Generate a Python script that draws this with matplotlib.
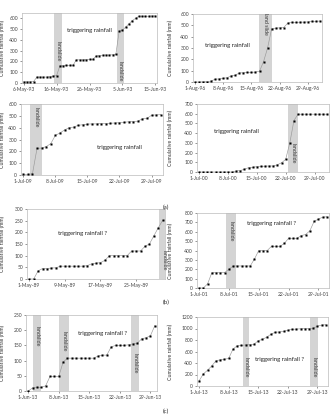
import matplotlib
matplotlib.use('Agg')
import matplotlib.pyplot as plt
import pandas as pd

plt.rcParams['font.family'] = ['Lato', 'DejaVu Sans']

# daily cumulative rainfall (mm)
a1_start = '1993-05-06'
a1_vals = [10, 10, 10, 12, 55, 55, 55, 55, 58, 65, 68, 160, 160, 163, 165, 165,
           215, 215, 215, 218, 220, 220, 250, 255, 258, 260, 260, 262, 265, 480,
           490, 520, 550, 580, 600, 620, 620, 620, 620, 622, 622]
a1_bands = [('1993-05-15 08:00', '1993-05-17 12:00'), ('1993-06-03 06:00', '1993-06-05 12:00')]
a1_ticks = ['1993-05-06', '1993-05-16', '1993-05-26', '1993-06-05', '1993-06-15']

a2_start = '1996-08-01'
a2_vals = [0, 0, 2, 3, 8, 25, 27, 32, 38, 55, 60, 80, 82, 85, 85, 88, 95, 180, 300,
           470, 475, 478, 480, 520, 525, 525, 528, 528, 530, 535, 535, 538]
a2_bands = [('1996-08-16 18:00', '1996-08-20 00:00')]
a2_ticks = ['1996-08-01', '1996-08-08', '1996-08-15', '1996-08-22', '1996-08-29']

a3_start = '2009-07-01'
a3_vals = [5, 5, 10, 225, 228, 240, 265, 335, 355, 380, 400, 405, 420, 425, 430, 432,
           432, 435, 435, 437, 440, 442, 445, 450, 452, 455, 475, 478, 505, 508, 510]
a3_bands = [('2009-07-02 10:00', '2009-07-05 00:00')]
a3_ticks = ['2009-07-01', '2009-07-08', '2009-07-15', '2009-07-22', '2009-07-29']

a4_start = '2000-07-01'
a4_vals = [0, 0, 0, 0, 0, 0, 0, 0, 0, 10, 15, 28, 45, 48, 55, 58, 60, 62, 62, 75,
           95, 130, 300, 530, 595, 595, 595, 595, 595, 595, 595, 595]
a4_bands = [('2000-07-22 12:00', '2000-07-25 00:00')]
a4_ticks = ['2000-07-01', '2000-07-08', '2000-07-15', '2000-07-22', '2000-07-29']

b1_start = '1989-05-01'
b1_vals = [0, 0, 35, 45, 45, 47, 48, 55, 55, 55, 55, 55, 55, 57, 65, 68, 70, 80,
           100, 100, 100, 100, 100, 120, 120, 120, 140, 150, 185, 220, 252]
b1_bands = [('1989-05-30 06:00', '1989-06-01 12:00')]
b1_ticks = ['1989-05-01', '1989-05-09', '1989-05-17', '1989-05-25']

b2_start = '2001-07-01'
b2_vals = [0, 0, 45, 165, 165, 165, 165, 200, 235, 235, 235, 235, 235, 310, 400, 400,
           400, 445, 445, 445, 475, 530, 530, 530, 560, 570, 610, 710, 735, 755, 760]
b2_bands = [('2001-07-07 06:00', '2001-07-09 18:00')]
b2_ticks = ['2001-07-01', '2001-07-08', '2001-07-15', '2001-07-22', '2001-07-29']

c1_start = '2013-06-01'
c1_vals = [0, 10, 12, 12, 17, 48, 48, 48, 95, 108, 108, 108, 108, 108, 108, 108,
           115, 118, 118, 145, 150, 150, 150, 152, 155, 157, 172, 175, 182, 215]
c1_bands = [('2013-06-02 00:00', '2013-06-04 00:00'), ('2013-06-08 02:00', '2013-06-10 08:00'),
            ('2013-06-24 12:00', '2013-06-26 10:00')]
c1_ticks = ['2013-06-01', '2013-06-08', '2013-06-15', '2013-06-22', '2013-06-29']

c2_start = '2013-07-01'
c2_vals = [90, 210, 275, 350, 440, 455, 465, 480, 640, 700, 705, 715, 720, 725, 790,
           810, 850, 900, 935, 940, 950, 970, 985, 990, 995, 1000, 1000, 1005, 1040,
           1060, 1065]
c2_bands = [('2013-07-11 08:00', '2013-07-12 22:00'), ('2013-07-27 06:00', '2013-07-29 03:00')]
c2_ticks = ['2013-07-01', '2013-07-08', '2013-07-15', '2013-07-22', '2013-07-29']

W, H = 330, 418
fig = plt.figure(figsize=(W / 100, H / 100), dpi=100)


def panel(l, r, t, b, start, vals, bands, ticks, ylim, ystep, text, txt_pos, ls_y,
          ls_text='landslide', ylab_x=6):
    ax = fig.add_axes([l / W, 1 - b / H, (r - l) / W, (b - t) / H])
    d = pd.date_range(start, periods=len(vals), freq='D')
    for (b0, b1), ly in zip(bands, ls_y):
        t0, t1 = pd.Timestamp(b0), pd.Timestamp(b1)
        ax.axvspan(t0, t1, color='#d4d4d4', lw=0, zorder=0)
        ax.text(t0 + (t1 - t0) / 2, ly, ls_text, rotation=270, ha='center', va='center',
                fontsize=3.8, color='#333333')
    ax.plot(d, vals, color='#999999', lw=0.45, marker='s', ms=1.2,
            mfc='black', mec='black', mew=0.2, zorder=3)
    ax.set_ylim(*ylim)
    ax.set_yticks(range(0, ylim[1] + 1, ystep))
    tk = [pd.Timestamp(x) for x in ticks]
    ax.set_xticks(tk)
    ax.set_xticklabels([f'{x.day}-{x.strftime("%b-%y")}' for x in tk])
    ax.set_xlim(d[0] - pd.Timedelta(hours=12), d[-1] + pd.Timedelta(hours=12))
    ax.tick_params(labelsize=3.6, length=1.3, width=0.4, pad=1.5, colors='#444444')
    for s in ax.spines.values():
        s.set_color('#bbbbbb')
        s.set_linewidth(0.5)
    ax.set_ylabel('Cumulative rainfall (mm)', fontsize=3.8, color='#333333')
    ax.yaxis.set_label_coords((ylab_x - l) / (r - l), 0.5)
    ax.text(pd.Timestamp(txt_pos[0]), txt_pos[1], text, fontsize=4.3,
            ha='center', va='center', color='#222222')
    return ax


ax = panel(22, 157, 13, 83, a1_start, a1_vals, a1_bands, a1_ticks, (0, 650), 100,
           'triggering rainfall', ('1993-05-26', 490), [300, 110], ylab_x=5)
ax.set_yticks(range(0, 601, 100))
panel(193, 322, 14, 82, a2_start, a2_vals, a2_bands, a2_ticks, (0, 600), 100,
      'triggering rainfall', ('1996-08-09', 320), [510], 'land slide', ylab_x=173)
panel(21, 163, 104, 175, a3_start, a3_vals, a3_bands, a3_ticks, (0, 600), 100,
      'triggering rainfall', ('2009-07-22', 230), [490], ylab_x=5)
panel(197, 329, 104, 172, a4_start, a4_vals, a4_bands, a4_ticks, (0, 700), 100,
      'triggering rainfall', ('2000-07-10', 420), [190], ylab_x=173)
panel(27, 165, 209, 279, b1_start, b1_vals, b1_bands, b1_ticks, (0, 300), 50,
      'triggering rainfall ?', ('1989-05-13', 195), [80], ylab_x=5)
panel(197, 329, 213, 288, b2_start, b2_vals, b2_bands, b2_ticks, (0, 800), 100,
      'triggering rainfall ?', ('2001-07-18', 690), [610], ylab_x=173)
panel(26, 157, 315, 391, c1_start, c1_vals, c1_bands, c1_ticks, (0, 250), 50,
      'triggering rainfall ?', ('2013-06-18', 190), [180, 165, 90], ylab_x=5)
panel(197, 328, 317, 386, c2_start, c2_vals, c2_bands, c2_ticks, (0, 1200), 200,
      'triggering rainfall ?', ('2013-07-20', 460), [320, 320], ylab_x=173)

for lab, y in [('(a)', 207), ('(b)', 302), ('(c)', 411)]:
    fig.text(166 / W, 1 - y / H, lab, fontsize=4.5, ha='center', va='center', color='#333333')

fig.savefig('out.png', dpi=100)
